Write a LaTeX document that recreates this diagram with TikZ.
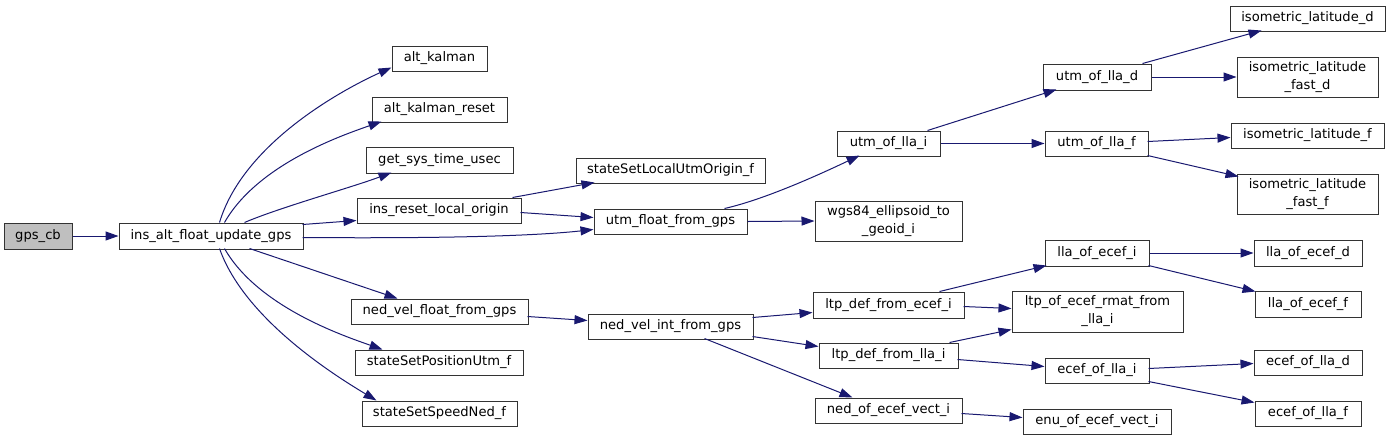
\documentclass[tikz,border=0pt]{standalone}
\usepackage{fontspec}
\setmainfont{DejaVu Sans}
\usetikzlibrary{arrows.meta}
\definecolor{edgecol}{HTML}{191970}
\definecolor{framecol}{HTML}{333333}
\definecolor{rootfill}{HTML}{BFBFBF}
\newcommand{\mkbox}[7][]{\node[fnbox,#1, minimum width={(#5)-(#3)}, minimum height={(#6)-(#4)}] (#2) at ({((#3)+(#5))/2},{((#4)+(#6))/2}) {#7};}
\tikzset{
  fnbox/.style={draw=framecol, line width=1pt, inner sep=0pt, fill=white,
    font=\fontsize{13.1}{18}\selectfont, align=center},
  calledge/.style={draw=edgecol, line width=1pt, -{Triangle[length=13pt,width=9pt]}}
}
\begin{document}
\begin{tikzpicture}[x=1pt,y=-1pt]
\useasboundingbox (0,0) rectangle (1391,440);
% nodes
\mkbox[fill=rootfill]{gpscb}{4}{223}{72}{249}{gps\_cb}
\mkbox{ins}{119}{223}{303}{249}{ins\_alt\_float\_update\_gps}
\mkbox{ak}{392}{46}{487}{71}{alt\_kalman}
\mkbox{akr}{372}{97}{507}{122}{alt\_kalman\_reset}
\mkbox{gst}{366}{147}{513}{173}{get\_sys\_time\_usec}
\mkbox{irlo}{357}{198}{521}{223}{ins\_reset\_local\_origin}
\mkbox{nvfg}{351}{299}{528}{324}{ned\_vel\_float\_from\_gps}
\mkbox{sspu}{355}{350}{523}{375}{stateSetPositionUtm\_f}
\mkbox{sssn}{362}{401}{517}{426}{stateSetSpeedNed\_f}
\mkbox{sslu}{576}{158}{765}{183}{stateSetLocalUtmOrigin\_f}
\mkbox{uffg}{594}{209}{747}{234}{utm\_float\_from\_gps}
\mkbox{uolli}{837}{131}{940}{156}{utm\_of\_lla\_i}
\mkbox{wgs}{815}{201}{962}{241}{wgs84\_ellipsoid\_to\\\_geoid\_i}
\mkbox{iold}{1230}{6}{1385}{31}{isometric\_latitude\_d}
\mkbox{uolld}{1043}{64}{1151}{90}{utm\_of\_lla\_d}
\mkbox{ilfd}{1237}{57}{1378}{97}{isometric\_latitude\\\_fast\_d}
\mkbox{uollf}{1045}{131}{1148}{156}{utm\_of\_lla\_f}
\mkbox{ilf}{1231}{123}{1384}{148}{isometric\_latitude\_f}
\mkbox{ilff}{1237}{174}{1378}{214}{isometric\_latitude\\\_fast\_f}
\mkbox{nvig}{588}{314}{753}{339}{ned\_vel\_int\_from\_gps}
\mkbox{ltpe}{813}{292}{964}{318}{ltp\_def\_from\_ecef\_i}
\mkbox{ltpl}{819}{343}{958}{368}{ltp\_def\_from\_lla\_i}
\mkbox{noev}{815}{398}{962}{423}{ned\_of\_ecef\_vect\_i}
\mkbox{lloei}{1045}{240}{1149}{266}{lla\_of\_ecef\_i}
\mkbox{lload}{1254}{240}{1362}{266}{lla\_of\_ecef\_d}
\mkbox{rmat}{1012}{291}{1183}{332}{ltp\_of\_ecef\_rmat\_from\\\_lla\_i}
\mkbox{lloef}{1255}{291}{1361}{317}{lla\_of\_ecef\_f}
\mkbox{eolli}{1045}{358}{1149}{383}{ecef\_of\_lla\_i}
\mkbox{eolld}{1254}{350}{1362}{375}{ecef\_of\_lla\_d}
\mkbox{eollf}{1255}{401}{1361}{426}{ecef\_of\_lla\_f}
\mkbox{enu}{1023}{409}{1171}{434}{enu\_of\_ecef\_vect\_i}
% edges
\draw[calledge] (gpscb.east) -- (ins.west);
\draw[calledge] ([shift={(101,0)}]ins.north west) .. controls +(25,-83) and +(-40,18) .. ([shift={(0,22)}]ak.north west);
\draw[calledge] ([shift={(106,0)}]ins.north west) .. controls +(33,-58) and +(-40,14) .. ([shift={(10,25)}]akr.north west);
\draw[calledge] ([shift={(126,0)}]ins.north west) .. controls +(35,-15) and +(-40,15) .. ([shift={(26,26)}]gst.north west);
\draw[calledge] ([shift={(184,2)}]ins.north west) -- ([shift={(0,23)}]irlo.north west);
\draw[calledge] ([shift={(184,15)}]ins.north west) .. controls +(127,1) and +(-64,7) .. ([shift={(0,21)}]uffg.north west);
\draw[calledge] ([shift={(131,26)}]ins.north west) -- ([shift={(47,0)}]nvfg.north west);
\draw[calledge] ([shift={(106,26)}]ins.north west) .. controls +(33,58) and +(-40,-14) .. ([shift={(28,0)}]sspu.north west);
\draw[calledge] ([shift={(101,26)}]ins.north west) .. controls +(25,71) and +(-40,-24) .. ([shift={(15,0)}]sssn.north west);
\draw[calledge] ([shift={(156,0)}]irlo.north west) -- ([shift={(19,25)}]sslu.north west);
\draw[calledge] ([shift={(164,15)}]irlo.north west) -- ([shift={(0,9)}]uffg.north west);
\draw[calledge] ([shift={(131,0)}]uffg.north west) .. controls +(40,-9) and +(-40,19) .. ([shift={(23,25)}]uolli.north west);
\draw[calledge] (uffg.east) -- (wgs.west);
\draw[calledge] ([shift={(91,0)}]uolli.north west) -- ([shift={(14,26)}]uolld.north west);
\draw[calledge] (uolli.east) -- (uollf.west);
\draw[calledge] ([shift={(100,0)}]uolld.north west) -- ([shift={(32,25)}]iold.north west);
\draw[calledge] (uolld.east) -- (ilfd.west);
\draw[calledge] ([shift={(103,11)}]uollf.north west) -- ([shift={(0,15)}]ilf.north west);
\draw[calledge] ([shift={(103,25)}]uollf.north west) -- ([shift={(2,3)}]ilff.north west);
\draw[calledge] ([shift={(177,18)}]nvfg.north west) -- ([shift={(0,7)}]nvig.north west);
\draw[calledge] ([shift={(165,4)}]nvig.north west) -- ([shift={(0,21)}]ltpe.north west);
\draw[calledge] ([shift={(165,23)}]nvig.north west) -- ([shift={(0,4)}]ltpl.north west);
\draw[calledge] ([shift={(117,25)}]nvig.north west) -- ([shift={(38,0)}]noev.north west);
\draw[calledge] ([shift={(127,0)}]ltpe.north west) -- ([shift={(2,26)}]lloei.north west);
\draw[calledge] ([shift={(151,15)}]ltpe.north west) -- ([shift={(0,18)}]rmat.north west);
\draw[calledge] ([shift={(131,0)}]ltpl.north west) -- ([shift={(0,39)}]rmat.north west);
\draw[calledge] ([shift={(139,17)}]ltpl.north west) -- ([shift={(0,9)}]eolli.north west);
\draw[calledge] ([shift={(147,16)}]noev.north west) -- ([shift={(0,9)}]enu.north west);
\draw[calledge] (lloei.east) -- (lload.west);
\draw[calledge] ([shift={(104,26)}]lloei.north west) -- ([shift={(1,1)}]lloef.north west);
\draw[calledge] ([shift={(104,11)}]eolli.north west) -- ([shift={(0,14)}]eolld.north west);
\draw[calledge] ([shift={(104,24)}]eolli.north west) -- ([shift={(0,2)}]eollf.north west);
\end{tikzpicture}
\end{document}
